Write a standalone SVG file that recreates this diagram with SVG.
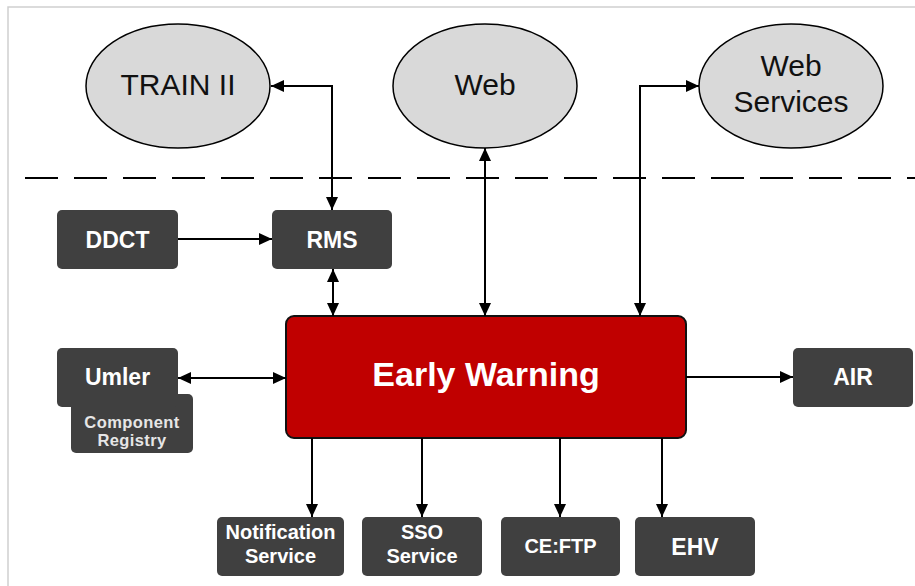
<svg xmlns="http://www.w3.org/2000/svg" width="915" height="586" viewBox="0 0 915 586">
<defs>
<marker id="ahb" viewBox="0 0 10 10" refX="10" refY="5" markerWidth="13" markerHeight="12" markerUnits="userSpaceOnUse" orient="auto-start-reverse" preserveAspectRatio="none">
<path d="M0,0 L10,5 L0,10 z" fill="#000"/>
</marker>
<style>
.ell{fill:#d9d9d9;stroke:#000;stroke-width:1.5}
.et{font-family:"Liberation Sans",Arial,sans-serif;font-size:30px;fill:#111;text-anchor:middle}
.box{fill:#404040;stroke:none}
.bt{font-family:"Liberation Sans",Arial,sans-serif;font-weight:bold;font-size:23px;fill:#fff;text-anchor:middle}
.st{font-family:"Liberation Sans",Arial,sans-serif;font-weight:bold;font-size:20px;fill:#fff;text-anchor:middle}
.ct{font-family:"Liberation Sans",Arial,sans-serif;font-weight:bold;font-size:16.5px;fill:#e6e6e6;text-anchor:middle;letter-spacing:0.4px}
.c{fill:none;stroke:#000;stroke-width:2}
</style>
</defs>
<rect x="0" y="0" width="915" height="586" fill="#fff"/>
<path d="M8,586 V7 H915" fill="none" stroke="#cfcfcf" stroke-width="1.5"/>
<line x1="25" y1="178" x2="915" y2="178" stroke="#000" stroke-width="2.2" stroke-dasharray="33 16"/>

<g id="train2"><ellipse class="ell" cx="178" cy="86" rx="92" ry="62"/><text class="et" x="178" y="95">TRAIN II</text></g>
<g id="web"><ellipse class="ell" cx="485" cy="86" rx="92" ry="62"/><text class="et" x="485" y="95">Web</text></g>
<g id="websvc"><ellipse class="ell" cx="791" cy="86" rx="92" ry="62"/><text class="et" x="791" y="76">Web</text><text class="et" x="791" y="112">Services</text></g>

<g id="ddct"><rect class="box" x="57" y="210" width="121" height="59" rx="5"/><text class="bt" x="117.5" y="248">DDCT</text></g>
<g id="rms"><rect class="box" x="272" y="210" width="120" height="59" rx="5"/><text class="bt" x="332" y="248">RMS</text></g>
<g id="compreg"><rect class="box" x="71" y="394" width="122" height="59" rx="5"/><text class="ct" x="132" y="428">Component</text><text class="ct" x="132" y="446">Registry</text></g>
<g id="umler"><rect class="box" x="57" y="348" width="121" height="59" rx="5" stroke="#fff" stroke-width="1.5"/><text class="bt" x="117.5" y="385">Umler</text></g>
<g id="ew"><rect x="286" y="316" width="400" height="122" rx="8" fill="#c00000" stroke="#111" stroke-width="2"/><text x="486" y="386" font-family="Liberation Sans,Arial,sans-serif" font-weight="bold" font-size="34" fill="#fff" text-anchor="middle">Early Warning</text></g>
<g id="air"><rect class="box" x="793" y="348" width="120" height="59" rx="5"/><text class="bt" x="853" y="385">AIR</text></g>
<g id="notif"><rect class="box" x="217" y="517" width="127" height="59" rx="5"/><text class="st" x="280.5" y="539">Notification</text><text class="st" x="280.5" y="563">Service</text></g>
<g id="sso"><rect class="box" x="362" y="517" width="120" height="59" rx="5"/><text class="st" x="422" y="539">SSO</text><text class="st" x="422" y="563">Service</text></g>
<g id="ceftp"><rect class="box" x="501" y="517" width="119" height="59" rx="5"/><text class="st" x="560.5" y="553">CE:FTP</text></g>
<g id="ehv"><rect class="box" x="635" y="517" width="120" height="59" rx="5"/><text class="bt" x="695" y="555">EHV</text></g>

<g id="connectors">
<path class="c" d="M271,86 H332 V210" marker-start="url(#ahb)" marker-end="url(#ahb)"/>
<path class="c" d="M485,148 V316" marker-start="url(#ahb)" marker-end="url(#ahb)"/>
<path class="c" d="M699,86 H640 V316" marker-start="url(#ahb)" marker-end="url(#ahb)"/>
<path class="c" d="M178,239 H272" marker-end="url(#ahb)"/>
<path class="c" d="M333,269 V316" marker-start="url(#ahb)" marker-end="url(#ahb)"/>
<path class="c" d="M178,378 H286" marker-start="url(#ahb)" marker-end="url(#ahb)"/>
<path class="c" d="M686,377 H793" marker-end="url(#ahb)"/>
<path class="c" d="M312,438 V517" marker-end="url(#ahb)"/>
<path class="c" d="M422,438 V517" marker-end="url(#ahb)"/>
<path class="c" d="M560,438 V517" marker-end="url(#ahb)"/>
<path class="c" d="M662,438 V517" marker-end="url(#ahb)"/>
</g>
</svg>
